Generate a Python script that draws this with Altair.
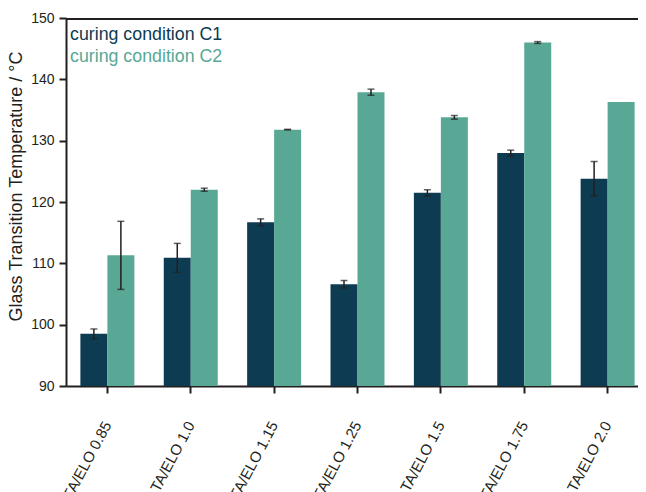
import altair as alt
import pandas as pd

categories = ["TA/ELO 0.85", "TA/ELO 1.0", "TA/ELO 1.15", "TA/ELO 1.25",
              "TA/ELO 1.5", "TA/ELO 1.75", "TA/ELO 2.0"]
c1_values = [98.5, 110.9, 116.7, 106.6, 121.5, 128.0, 123.8]
c1_errors = [0.8, 2.35, 0.55, 0.6, 0.5, 0.45, 2.8]
c2_values = [111.3, 122.0, 131.8, 137.9, 133.8, 146.0, 136.3]
c2_errors = [5.55, 0.25, 0.05, 0.5, 0.3, 0.15, None]
series_names = ["curing condition C1", "curing condition C2"]
series_colors = ["#0d3b51", "#58a895"]
y_ticks = [90, 95, 100, 105, 110, 115, 120, 125, 130, 135, 140, 145, 150]

rows = []
for i, cat in enumerate(categories):
    rows.append(dict(cat=cat, series=series_names[0], value=c1_values[i], err=c1_errors[i]))
    rows.append(dict(cat=cat, series=series_names[1], value=c2_values[i], err=c2_errors[i]))
df = pd.DataFrame(rows)
df["lo"] = df["value"] - df["err"]
df["hi"] = df["value"] + df["err"]
df_err = df.dropna(subset=["err"]).copy()

AX = "#231f20"
FONT = "Liberation Sans"

xscale = alt.Scale(domain=categories, range=[0, 583], paddingInner=0.3525, paddingOuter=0.1727)
yscale = alt.Scale(domain=[90, 150], nice=False, zero=False)
cscale = alt.Scale(domain=series_names, range=series_colors)
xoff = alt.XOffset("series:N", scale=alt.Scale(domain=series_names, paddingInner=0, paddingOuter=0))

x_axis = alt.Axis(title=None, labelAngle=-62, labelAlign="right", labelBaseline="middle",
                  labelFontSize=15, labelColor=AX, labelPadding=29, tickSize=7, tickWidth=2,
                  tickColor=AX, domainColor=AX, domainWidth=2, labelFont=FONT, grid=False)
y_axis = alt.Axis(title="Glass Transition Temperature / °C", values=y_ticks,
                  labelExpr="datum.value % 10 == 0 ? datum.label : ''",
                  tickSize={"condition": {"test": "datum.value % 10 != 0", "value": 3}, "value": 7},
                  tickWidth=2, tickColor=AX, domainColor=AX, domainWidth=2,
                  labelFontSize=14, labelColor=AX, labelPadding=5, labelFont=FONT,
                  titleFontSize=18, titleFontWeight="normal", titleColor=AX, titleFont=FONT,
                  titleAngle=270, titleAlign="center", titleBaseline="alphabetic",
                  titleX=-45, titleY=168, grid=False)

bars = alt.Chart(df).mark_bar().encode(
    x=alt.X("cat:N", scale=xscale, sort=categories, axis=x_axis),
    xOffset=xoff,
    y=alt.Y("value:Q", scale=yscale, axis=y_axis),
    y2=alt.datum(90),
    color=alt.Color("series:N", scale=cscale, legend=None),
)

err_rule = alt.Chart(df_err).mark_rule(color=AX, strokeWidth=1.5).encode(
    x=alt.X("cat:N", scale=xscale, sort=categories),
    xOffset=xoff,
    y=alt.Y("lo:Q", scale=yscale),
    y2="hi:Q",
)
cap_lo = alt.Chart(df_err).mark_tick(color=AX, size=7, thickness=1.5).encode(
    x=alt.X("cat:N", scale=xscale, sort=categories),
    xOffset=xoff,
    y=alt.Y("lo:Q", scale=yscale),
)
cap_hi = alt.Chart(df_err).mark_tick(color=AX, size=7, thickness=1.5).encode(
    x=alt.X("cat:N", scale=xscale, sort=categories),
    xOffset=xoff,
    y=alt.Y("hi:Q", scale=yscale),
)

border = alt.Chart(pd.DataFrame({"a": [0]})).mark_rule(color=AX, strokeWidth=2).encode(
    x=alt.value(0), x2=alt.value(572), y=alt.value(1)
)

leg1 = alt.Chart(pd.DataFrame({"label": [series_names[0]]})).mark_text(
    align="left", baseline="alphabetic", fontSize=17.8, font=FONT, color=series_colors[0]
).encode(text="label:N", x=alt.value(4), y=alt.value(22))
leg2 = alt.Chart(pd.DataFrame({"label": [series_names[1]]})).mark_text(
    align="left", baseline="alphabetic", fontSize=17.8, font=FONT, color=series_colors[1]
).encode(text="label:N", x=alt.value(4), y=alt.value(43.7))

chart = alt.layer(bars, err_rule, cap_lo, cap_hi, border, leg1, leg2).properties(
    width=572, height=368,
    autosize=alt.AutoSizeParams(type="none"),
    padding={"left": 58, "top": 10, "right": 0, "bottom": 106},
).configure_view(stroke=None).configure(font=FONT)

chart.save("out.html", embed_options={"renderer": "svg", "actions": False})
